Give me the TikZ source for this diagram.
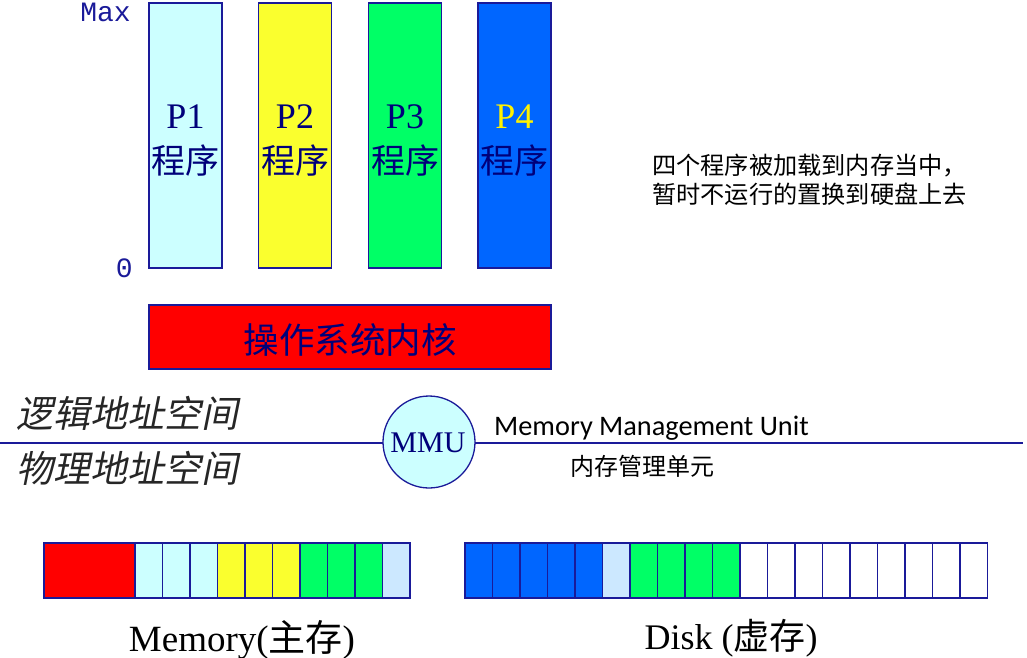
\documentclass[tikz,border=0pt]{standalone}
\usepackage{fontspec}
\setmainfont{Liberation Serif}
\newfontfamily\cjk{Noto Sans CJK SC}
\newfontfamily\cjkit[FakeSlant=0.2]{Noto Sans CJK SC}
\newfontfamily\monof{Liberation Mono}
\newfontfamily\calib{Carlito}
\definecolor{navy}{HTML}{1A1A99}
\definecolor{txtnavy}{HTML}{00007A}
\definecolor{lcyan}{HTML}{CCFFFF}
\definecolor{pyellow}{HTML}{FAFF2E}
\definecolor{pgreen}{HTML}{00FF66}
\definecolor{pblue}{HTML}{0066FF}
\definecolor{lblue}{HTML}{CCE8FF}
\definecolor{pred}{HTML}{FF0000}
\begin{document}
\begin{tikzpicture}[x=1pt,y=-1pt,
  prog/.style={draw=navy,line width=1.5pt,inner sep=0pt,outer sep=0pt,minimum width=73pt,minimum height=265pt},
  ptxt/.style={font=\fontsize{36}{40}\selectfont,text=txtnavy,inner sep=0pt},
  pcjk/.style={font=\cjk\fontsize{34}{40}\selectfont,text=txtnavy,inner sep=0pt},
  cell/.style={draw=navy,line width=1.3pt,inner sep=0pt,outer sep=0pt,minimum width=27.5pt,minimum height=55pt,anchor=north west},
  axis/.style={font=\monof\fontsize{28}{30}\selectfont,text=navy,inner sep=0pt},
  space/.style={font=\cjkit\fontsize{37}{42}\selectfont,text=black!85,inner sep=0pt},
  note/.style={font=\cjk\fontsize{24.2}{28}\selectfont,text=black,inner sep=0pt,anchor=west}
]
\useasboundingbox (0,0) rectangle (1027,657);
% programs
\node[prog,fill=lcyan]   (p1) at (185.5,135.5) {};
\node[prog,fill=pyellow] (p2) at (295,135.5) {};
\node[prog,fill=pgreen]  (p3) at (405,135.5) {};
\node[prog,fill=pblue]   (p4) at (514.5,135.5) {};
\node[ptxt,anchor=base] (p1a) at (185.5,128) {P1};
\node[ptxt,anchor=base] (p2a) at (295,128) {P2};
\node[ptxt,anchor=base] (p3a) at (405,128) {P3};
\node[ptxt,anchor=base,text=yellow] (p4a) at (514.5,128) {P4};
\node[pcjk] (p1b) at (185.5,161) {程序};
\node[pcjk] (p2b) at (295,161) {程序};
\node[pcjk] (p3b) at (405,161) {程序};
\node[pcjk] (p4b) at (514.5,161) {程序};
\node[axis,anchor=base east] (max) at (131,21) {Max};
\node[axis,anchor=base east] (zero) at (133,277) {0};
% kernel
\node[draw=navy,line width=1.5pt,fill=pred,inner sep=0pt,minimum width=402pt,minimum height=64pt] (kern) at (350,337) {};
\node[font=\cjk\fontsize{35.5}{40}\selectfont,text=txtnavy,inner sep=0pt] (kerntxt) at (350,340) {操作系统内核};
% note
\node[note] (n1) at (652,166) {四个程序被加载到内存当中，};
\node[note] (n2) at (652,194) {暂时不运行的置换到硬盘上去};
% line and MMU
\coordinate (L) at (0,443);
\coordinate (R) at (1023,443);
\draw[navy,line width=1.5pt] (L) -- (R);
\node[circle,draw=navy,line width=1.3pt,fill=lcyan,minimum size=92pt,inner sep=0pt] (mmu) at (429,442) {};
\node[font=\fontsize{30}{32}\selectfont,text=txtnavy,inner sep=0pt] (mmutxt) at (428,443) {MMU};
\node[space,anchor=west] (log) at (16,413) {逻辑地址空间};
\node[space,anchor=west] (phy) at (16,468) {物理地址空间};
\node[font=\calib\fontsize{28.3}{30}\selectfont,anchor=base west,inner sep=0pt] (mmuen) at (494,435) {Memory Management Unit};
\node[font=\cjk\fontsize{24}{28}\selectfont,inner sep=0pt] (mmucn) at (642,466) {内存管理单元};
% memory bar
\node[cell,fill=pred,minimum width=91pt] (mred) at (44,543) {};
\foreach \c [count=\i from 0] in {lcyan,lcyan,lcyan,pyellow,pyellow,pyellow,pgreen,pgreen,pgreen,lblue}
  \node[cell,fill=\c] (m\i) at ({135+27.5*\i},543) {};
% disk bar
\foreach \c [count=\i from 0] in {pblue,pblue,pblue,pblue,pblue,lblue,pgreen,pgreen,pgreen,pgreen,white,white,white,white,white,white,white,white,white}
  \node[cell,fill=\c] (d\i) at ({465+27.5*\i},543) {};
\node[font=\fontsize{37}{40}\selectfont,anchor=base,inner sep=0pt] (memlbl) at (242,651) {Memory({\cjk 主存})};
\node[font=\fontsize{36}{40}\selectfont,anchor=base,inner sep=0pt] (disklbl) at (731,649) {Disk ({\cjk 虚存})};
\end{tikzpicture}
\end{document}
